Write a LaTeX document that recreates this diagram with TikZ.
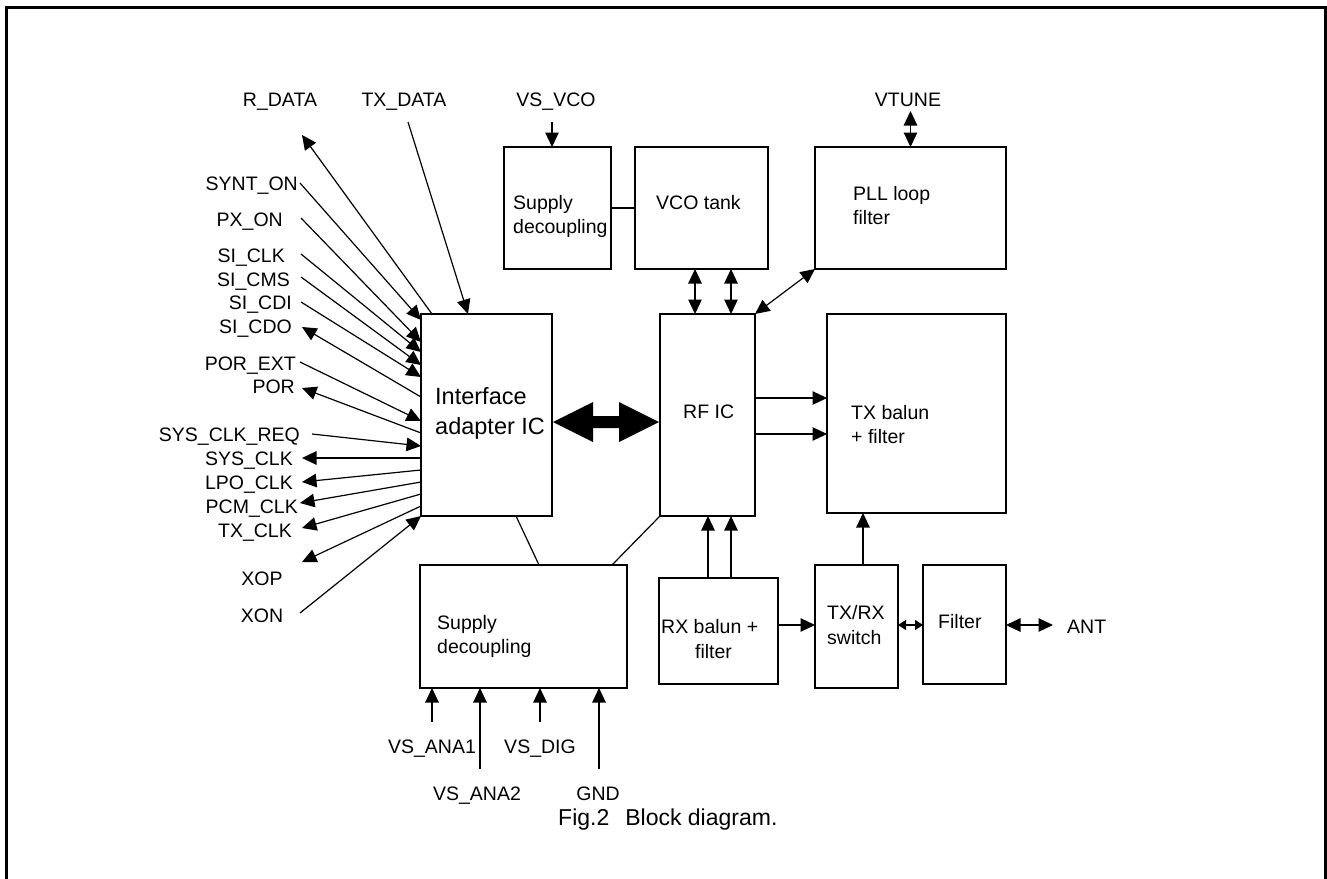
\documentclass[tikz,border=0pt]{standalone}
\usepackage{fontspec}
\setmainfont{Liberation Sans}
\usetikzlibrary{arrows.meta,calc}
\newcommand\lbfont{\fontsize{19.5}{24}\selectfont}
\newcommand\bigfont{\fontsize{23.5}{28}\selectfont}
\newcommand\capfont{\fontsize{23}{28}\selectfont}
\begin{document}
\begin{tikzpicture}[x=1pt,y=-1pt,
  blk/.style={draw, line width=1.4pt, inner sep=0pt, outer sep=0pt},
  lbl/.style={inner sep=0pt, font=\lbfont},
  txt/.style={inner sep=0pt, font=\lbfont},
  sig/.style={line width=1.2pt, -{Triangle[length=14.5pt,width=13.5pt]}},
  dsig/.style={line width=1.2pt, {Triangle[length=14.5pt,width=13.5pt]}-{Triangle[length=14.5pt,width=13.5pt]}},
  ssig/.style={line width=1.2pt, {Triangle[length=8pt,width=10pt]}-{Triangle[length=8pt,width=10pt]}},
  wire/.style={line width=1.2pt}]
\useasboundingbox (0,0) rectangle (1327,878);
% frame
\draw[line width=3pt] (6,890) -- (6,7) -- (1325.5,7) -- (1325.5,890);

% blocks
\node[blk, minimum width=107pt, minimum height=122pt] (sdt) at (557.5,208) {};
\node[blk, minimum width=133pt, minimum height=122pt] (vco) at (701.5,208) {};
\node[blk, minimum width=191pt, minimum height=122pt] (pll) at (910.5,208) {};
\node[blk, minimum width=131pt, minimum height=202pt] (ia) at (486.5,415) {};
\node[blk, minimum width=95pt, minimum height=202pt] (rf) at (707.5,415) {};
\node[blk, minimum width=179pt, minimum height=199pt] (txb) at (916.5,413.5) {};
\node[blk, minimum width=207pt, minimum height=123pt] (sdb) at (523.5,626.5) {};
\node[blk, minimum width=119pt, minimum height=106pt] (rxb) at (718.5,631) {};
\node[blk, minimum width=83pt, minimum height=123pt] (sw) at (856.5,626.5) {};
\node[blk, minimum width=83pt, minimum height=119pt] (flt) at (964.5,624.5) {};

% block texts
\node[txt, anchor=base west] (sdt1) at (513,209) {Supply};
\node[txt, anchor=base west] (sdt2) at (513,233) {decoupling};
\node[txt, anchor=base west] (vco1) at (656,209) {VCO tank};
\node[txt, anchor=base west] (pll1) at (853,200) {PLL loop};
\node[txt, anchor=base west] (pll2) at (853,224) {filter};
\node[inner sep=0pt, font=\bigfont, anchor=base west] (ia1) at (435,404) {Interface};
\node[inner sep=0pt, font=\bigfont, anchor=base west] (ia2) at (435,434) {adapter IC};
\node[txt, anchor=base west] (rf1) at (683,418) {RF IC};
\node[txt, anchor=base west] (txb1) at (851,419) {TX balun};
\node[txt, anchor=base west] (txb2) at (851,443) {+ filter};
\node[txt, anchor=base west] (sdb1) at (437,629) {Supply};
\node[txt, anchor=base west] (sdb2) at (437,653) {decoupling};
\node[txt, anchor=base west] (rxb1) at (661,633) {RX balun +};
\node[txt, anchor=base] (rxb2) at (713.5,658) {filter};
\node[txt, anchor=base west] (sw1) at (827,619) {TX/RX};
\node[txt, anchor=base west] (sw2) at (827,644) {switch};
\node[txt, anchor=base west] (flt1) at (938,628) {Filter};

% thick bus arrow
\coordinate (ta) at ($(ia.east)+(1,7)$);
\coordinate (tb) at ($(rf.west)+(-1,7)$);
\fill (ta) -- ($(ta)+(40,-20)$) -- ($(ta)+(40,-6)$) -- ($(tb)+(-40,-6)$) -- ($(tb)+(-40,-20)$)
  -- (tb) -- ($(tb)+(-40,20)$) -- ($(tb)+(-40,6)$) -- ($(ta)+(40,6)$) -- ($(ta)+(40,20)$) -- cycle;

% top connections
\draw[wire] (sdt.east) -- (vco.west);
\node[lbl, anchor=base] (lvsvco) at (556,106) {VS\_VCO};
\coordinate (cvsvco) at (552,122);
\draw[sig] (cvsvco) -- ($(sdt.north west)+(48,0)$);
\node[lbl, anchor=base] (lvtune) at (908,106) {VTUNE};
\coordinate (cvtune) at (910.5,111);
\draw[dsig] (cvtune) -- (pll.north);
\draw[dsig] ($(vco.south west)+(60,0)$) -- ($(rf.north west)+(35,0)$);
\draw[dsig] ($(vco.south west)+(96,0)$) -- ($(rf.north west)+(71,0)$);
\draw[dsig] (pll.south west) -- (rf.north east);

% RF to TX balun
\draw[sig] ($(rf.north east)+(0,84)$) -- ($(txb.north west)+(0,84)$);
\draw[sig] ($(rf.north east)+(0,120)$) -- ($(txb.north west)+(0,120)$);

% lower right chain
\draw[sig] ($(rxb.north west)+(49,0)$) -- ($(rf.south west)+(48,0)$);
\draw[sig] ($(rxb.north west)+(72,0)$) -- ($(rf.south west)+(71,0)$);
\draw[sig] ($(rxb.north east)+(0,47)$) -- ($(sw.north west)+(0,60)$);
\draw[sig] ($(sw.north west)+(48,0)$) -- ($(txb.south west)+(36,0)$);
\draw[ssig] ($(sw.north east)+(0,60)$) -- ($(flt.north west)+(0,60)$);
\coordinate (cant) at (1053,625);
\draw[dsig] ($(flt.north east)+(0,60)$) -- (cant);
\node[lbl, anchor=base west] (lant) at (1067,633) {ANT};

% supply decoupling links
\draw[wire] ($(ia.south west)+(95,0)$) -- ($(sdb.north west)+(119,0)$);
\draw[wire] (rf.south west) -- ($(sdb.north west)+(192,0)$);

% bottom supplies
\node[lbl, anchor=base] (lana1) at (432,753) {VS\_ANA1};
\coordinate (cana1) at (432,722);
\draw[sig] (cana1) -- ($(sdb.south west)+(12,0)$);
\node[lbl, anchor=base] (lana2) at (477,800) {VS\_ANA2};
\coordinate (cana2) at (480,769);
\draw[sig] (cana2) -- ($(sdb.south west)+(60,0)$);
\node[lbl, anchor=base] (ldig) at (540,753) {VS\_DIG};
\coordinate (cdig) at (540,722);
\draw[sig] (cdig) -- ($(sdb.south west)+(120,0)$);
\node[lbl, anchor=base] (lgnd) at (598,800) {GND};
\coordinate (cgnd) at (599,769);
\draw[sig] (cgnd) -- ($(sdb.south west)+(179,0)$);

% top-left data
\node[lbl, anchor=base] (lrdata) at (280,106) {R\_DATA};
\coordinate (crdata) at (302,135);
\draw[sig] ($(ia.north west)+(11,0)$) -- (crdata);
\node[lbl, anchor=base] (ltxdata) at (404,106) {TX\_DATA};
\coordinate (ctxdata) at (408,122);
\draw[sig] (ctxdata) -- ($(ia.north west)+(47,0)$);

% left signals
\node[lbl, anchor=base east] (lsynt) at (298,190) {SYNT\_ON};
\coordinate (csynt) at (300,183);
\draw[sig] (csynt) -- ($(ia.north west)+(0,6)$);
\node[lbl, anchor=base east] (lpx) at (283,226) {PX\_ON};
\coordinate (cpx) at (301,218);
\draw[sig] (cpx) -- ($(ia.north west)+(0,28)$);
\node[lbl, anchor=base east] (lsiclk) at (285,262) {SI\_CLK};
\coordinate (csiclk) at (301,254);
\draw[sig] (csiclk) -- ($(ia.north west)+(0,38)$);
\node[lbl, anchor=base east] (lsicms) at (290,286) {SI\_CMS};
\coordinate (csicms) at (301,277);
\draw[sig] (csicms) -- ($(ia.north west)+(0,51)$);
\node[lbl, anchor=base east] (lsicdi) at (292,309) {SI\_CDI};
\coordinate (csicdi) at (301,302);
\draw[sig] (csicdi) -- ($(ia.north west)+(0,63)$);
\node[lbl, anchor=base east] (lsicdo) at (292,333) {SI\_CDO};
\coordinate (csicdo) at (302,327);
\draw[sig] ($(ia.north west)+(0,83)$) -- (csicdo);
\node[lbl, anchor=base east] (lporext) at (296,370) {POR\_EXT};
\coordinate (cporext) at (300,362);
\draw[sig] (cporext) -- ($(ia.north west)+(0,107)$);
\node[lbl, anchor=base east] (lpor) at (295,393) {POR};
\coordinate (cpor) at (302,388);
\draw[sig] ($(ia.north west)+(0,119)$) -- (cpor);
\node[lbl, anchor=base east] (lsysreq) at (300,441) {SYS\_CLK\_REQ};
\coordinate (csysreq) at (312,434);
\draw[sig] (csysreq) -- ($(ia.north west)+(0,132)$);
\node[lbl, anchor=base east] (lsysclk) at (293,465) {SYS\_CLK};
\coordinate (csysclk) at (302,458);
\draw[sig] ($(ia.north west)+(0,144)$) -- (csysclk);
\node[lbl, anchor=base east] (llpo) at (293,489) {LPO\_CLK};
\coordinate (clpo) at (302,482);
\draw[sig] ($(ia.north west)+(0,156)$) -- (clpo);
\node[lbl, anchor=base east] (lpcm) at (298,513) {PCM\_CLK};
\coordinate (cpcm) at (300,503);
\draw[sig] ($(ia.north west)+(0,168)$) -- (cpcm);
\node[lbl, anchor=base east] (ltxclk) at (292,537) {TX\_CLK};
\coordinate (ctxclk) at (302,528);
\draw[sig] ($(ia.north west)+(0,180)$) -- (ctxclk);
\node[lbl, anchor=base] (lxop) at (262,585) {XOP};
\coordinate (cxop) at (302,562);
\draw[sig] ($(ia.north west)+(0,192)$) -- (cxop);
\node[lbl, anchor=base] (lxon) at (262,622) {XON};
\coordinate (cxon) at (300,613);
\draw[sig] (cxon) -- (ia.south west);

% caption
\node[inner sep=0pt, font=\capfont, anchor=base west] (cap) at (558,825) {Fig.2\hspace{16pt}Block diagram.};
\end{tikzpicture}
\end{document}
